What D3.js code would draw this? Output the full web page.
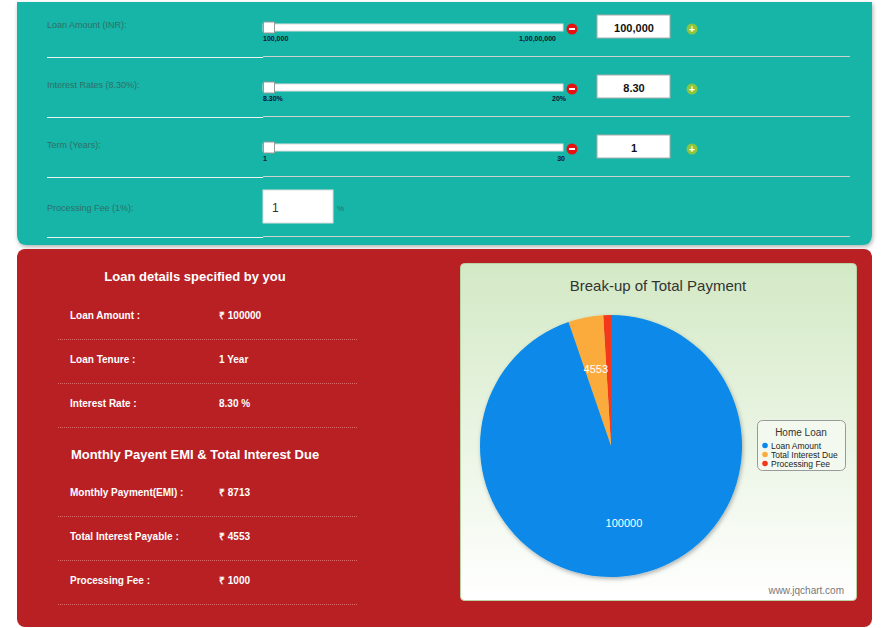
<!DOCTYPE html>
<html><head><meta charset="utf-8">
<script src="https://cdn.jsdelivr.net/npm/d3@7"></script>
<style>body{margin:0;background:#fff;font-family:Arial,"Liberation Sans",sans-serif}</style>
</head><body>
<script>
const sliderLabels = ["Loan Amount (INR):","Interest Rates (8.30%):","Term (Years):"];
const sliderMin = ["100,000","8.30%","1"];
const sliderMax = ["1,00,00,000","20%","30"];
const sliderValues = ["100,000","8.30","1"];
const detailLabels = ["Loan Amount :","Loan Tenure :","Interest Rate :"];
const detailValues = ["₹ 100000","1 Year","8.30 %"];
const emiLabels = ["Monthly Payment(EMI) :","Total Interest Payable :","Processing Fee :"];
const emiValues = ["₹ 8713","₹ 4553","₹ 1000"];
const pieNames = ["Processing Fee","Total Interest Due","Loan Amount"];
const pieValues = [1000,4553,100000];
const pieColors = ["#f3371b","#fbab3b","#0889ea"];

const svg = d3.select("body").append("svg").attr("width",895).attr("height",628);
const defs = svg.append("defs");
const g1 = defs.append("linearGradient").attr("id","bg").attr("x1",0).attr("y1",0).attr("x2",0).attr("y2",1);
g1.append("stop").attr("offset","0").attr("stop-color","#d3e9c5");
g1.append("stop").attr("offset","1").attr("stop-color","#ffffff");
const sh = defs.append("filter").attr("id","sh");
sh.append("feDropShadow").attr("dx",1).attr("dy",2).attr("stdDeviation",2).attr("flood-opacity",0.3);

// teal panel
svg.append("path").attr("d","M17,2 H872 V235 Q872,245 862,245 H27 Q17,245 17,235 Z")
  .attr("fill","#15b5a7").attr("filter","url(#sh)");

const rows = [0,1,2];
rows.forEach(i => {
  const y = 28 + i*60;
  svg.append("text").attr("x",47).attr("y",y).attr("font-size",9).attr("fill","#2f6f69").text(sliderLabels[i]);
  svg.append("rect").attr("x",263).attr("y",y-4).attr("width",300).attr("height",7).attr("fill","#fff").attr("stroke","#ddd");
  svg.append("rect").attr("x",263.5).attr("y",y-6).attr("width",11).attr("height",11).attr("fill","#fff").attr("stroke","#999");
  svg.append("text").attr("x",263).attr("y",y+13).attr("font-size",7).attr("font-weight","bold").attr("fill","#113").text(sliderMin[i]);
  svg.append("text").attr("x",i==0?556:(i==1?566:565)).attr("y",y+13).attr("text-anchor","end").attr("font-size",7).attr("font-weight","bold").attr("fill","#113").text(sliderMax[i]);
  svg.append("circle").attr("cx",572).attr("cy",y+1).attr("r",5.5).attr("fill","#e81010");
  svg.append("rect").attr("x",569).attr("y",y).attr("width",6).attr("height",2).attr("fill","#fff");
  svg.append("rect").attr("x",597).attr("y",y-13).attr("width",73).attr("height",23).attr("fill","#fff").attr("stroke","#aaa");
  svg.append("text").attr("x",634).attr("y",y+4).attr("text-anchor","middle").attr("font-size",11).attr("font-weight","bold").attr("fill","#111").text(sliderValues[i]);
  svg.append("circle").attr("cx",692).attr("cy",y+1).attr("r",5.5).attr("fill","#8cc63f");
  svg.append("text").attr("x",692).attr("y",y+4.5).attr("text-anchor","middle").attr("font-size",10).attr("font-weight","bold").attr("fill","#fff").text("+");
});
svg.append("text").attr("x",47).attr("y",211).attr("font-size",9).attr("fill","#2f6f69").text("Processing Fee (1%):");
svg.append("rect").attr("x",263).attr("y",190).attr("width",70).attr("height",33).attr("fill","#fff").attr("stroke","#ddd");
svg.append("text").attr("x",272).attr("y",212).attr("font-size",12).attr("fill","#333").text("1");
svg.append("text").attr("x",337).attr("y",211).attr("font-size",8).attr("fill","#2f6f69").text("%");
[57,117,177,237].forEach(y => {
  svg.append("line").attr("x1",47).attr("x2",263).attr("y1",y+0.5).attr("y2",y+0.5).attr("stroke","#e8f4f2");
  svg.append("line").attr("x1",263).attr("x2",850).attr("y1",y-0.5).attr("y2",y-0.5).attr("stroke","#d0d0d0");
});

// red panel
svg.append("rect").attr("x",17).attr("y",249).attr("width",855).attr("height",378).attr("rx",8).attr("fill","#b92024");
svg.append("text").attr("x",195).attr("y",281).attr("text-anchor","middle").attr("font-size",13).attr("font-weight","bold").attr("fill","#fff").text("Loan details specified by you");
svg.append("text").attr("x",195).attr("y",459).attr("text-anchor","middle").attr("font-size",13).attr("font-weight","bold").attr("fill","#fff").text("Monthly Payent EMI & Total Interest Due");
function detail(labels, values, y0){
  labels.forEach((l,i) => {
    const y = y0 + i*44;
    svg.append("text").attr("x",70).attr("y",y).attr("font-size",10).attr("font-weight","bold").attr("fill","#fff").text(l);
    svg.append("text").attr("x",219).attr("y",y).attr("font-size",10).attr("font-weight","bold").attr("fill","#fff").text(values[i]);
    svg.append("line").attr("x1",58).attr("x2",357).attr("y1",y+20.5).attr("y2",y+20.5).attr("stroke","#d9696b").attr("stroke-dasharray","1,1");
  });
}
detail(detailLabels, detailValues, 319);
detail(emiLabels, emiValues, 496);

// chart box
svg.append("rect").attr("x",460.5).attr("y",263.5).attr("width",396).attr("height",337).attr("rx",4).attr("fill","url(#bg)").attr("stroke","#b9d3a4");
svg.append("text").attr("x",658).attr("y",291).attr("text-anchor","middle").attr("font-size",15).attr("fill","#333").text("Break-up of Total Payment");

const cx = 611, cy = 446, r = 131;
const pie = d3.pie().sort(null).startAngle(0).endAngle(-2*Math.PI);
const arcs = pie(pieValues);
const arc = d3.arc().innerRadius(0).outerRadius(r);
const lab = d3.arc().innerRadius(r*0.6).outerRadius(r*0.6);
const pg = svg.append("g").attr("transform",`translate(${cx},${cy})`).attr("filter","url(#sh)");
pg.selectAll("path").data(arcs).join("path").attr("d",arc).attr("fill",(d,i)=>pieColors[i]);
svg.append("g").attr("transform",`translate(${cx},${cy})`).selectAll("text").data(arcs.filter(d=>d.data>2000)).join("text")
  .attr("transform",d=>`translate(${lab.centroid(d)})`).attr("text-anchor","middle").attr("dy","0.35em")
  .attr("font-size",11).attr("fill","#fff").text(d=>d.data);

// legend
svg.append("rect").attr("x",757.5).attr("y",420.5).attr("width",88).attr("height",50).attr("rx",5).attr("fill","#f4f9f0").attr("stroke","#999");
svg.append("text").attr("x",801).attr("y",436).attr("text-anchor","middle").attr("font-size",10).attr("fill","#333").text("Home Loan");
const legendOrder = [2,1,0];
legendOrder.forEach((k,i) => {
  const y = 446 + i*9;
  svg.append("circle").attr("cx",765).attr("cy",y-0.5).attr("r",2.8).attr("fill",pieColors[k]);
  svg.append("text").attr("x",771).attr("y",y+2.5).attr("font-size",8.5).attr("fill","#222").text(pieNames[k]);
});
svg.append("text").attr("x",844).attr("y",594).attr("text-anchor","end").attr("font-size",10).attr("fill","#777").text("www.jqchart.com");
</script>
</body></html>
